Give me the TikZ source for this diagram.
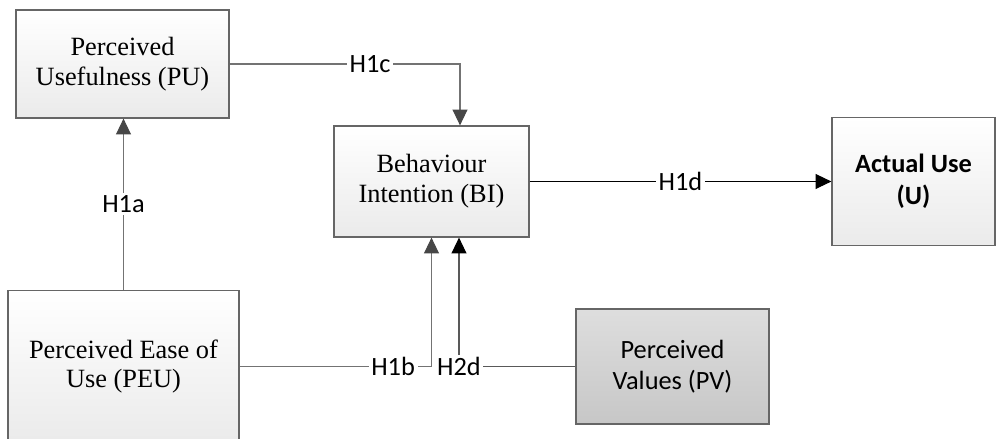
\documentclass[tikz,border=0pt]{standalone}
\usepackage{fontspec}
\setmainfont{Liberation Serif}
\newfontfamily\carlito{Carlito}
\usetikzlibrary{positioning,arrows.meta}

\begin{document}
\begin{tikzpicture}[font=\fontsize{15}{17}\selectfont,
  box/.style={draw=black!60,line width=0.7pt,align=center,inner sep=2pt,
    top color=white,bottom color=black!8},
  darkbox/.style={box,top color=black!13,bottom color=black!22,font=\carlito\fontsize{15}{18}\selectfont},
  conn/.style={draw=black!55,line width=0.6pt,
    -{Triangle[length=9pt,width=8.5pt,color=black!72]}},
  lbl/.style={font=\carlito\fontsize{15}{15}\selectfont,fill=white,inner sep=1.5pt}]
\useasboundingbox (0,0) rectangle (19.92,8.78);
\clip (0,0) rectangle (19.92,8.78);

% --- constructs ---
\node[box,minimum width=4.26cm,minimum height=2.16cm] (pu) at (2.45,7.5)
  {Perceived\\Usefulness (PU)};
\node[box,minimum width=3.90cm,minimum height=2.22cm] (bi) at (8.63,5.15)
  {Behaviour\\Intention (BI)};
\node[box,minimum width=3.26cm,minimum height=2.56cm,
  font=\carlito\bfseries\fontsize{15}{18}\selectfont] (au) at (18.27,5.15)
  {Actual Use\\(U)};
\node[box,minimum width=4.62cm,minimum height=3.04cm] (peu) at (2.47,1.45)
  {Perceived Ease of\\Use (PEU)};
\node[darkbox,minimum width=3.86cm,minimum height=2.30cm] (pv) at (13.45,1.45)
  {Perceived\\Values (PV)};

% --- entry points on BI ---
\coordinate (bitop) at ([xshift=0.57cm]bi.north);
\coordinate (bibot) at ([xshift=0.55cm]bi.south);

% --- hypotheses ---
\draw[conn] (peu.north) -- node[lbl]{H1a} (peu.north |- pu.south);
\draw[conn] (pu.east) -| node[lbl,pos=0.305]{H1c} (bitop);
\draw[conn] (peu.east) -| node[lbl,pos=0.4]{H1b} (bi.south);
\draw[conn,draw=black!65,-{Triangle[length=9pt,width=8.5pt,color=black]}] (pv.west) -| node[lbl]{H2d} (bibot);
\draw[conn,draw=black,-{Triangle[length=9pt,width=8.5pt,color=black]}] (bi.east) -- node[lbl]{H1d} (au.west);
\end{tikzpicture}
\end{document}
